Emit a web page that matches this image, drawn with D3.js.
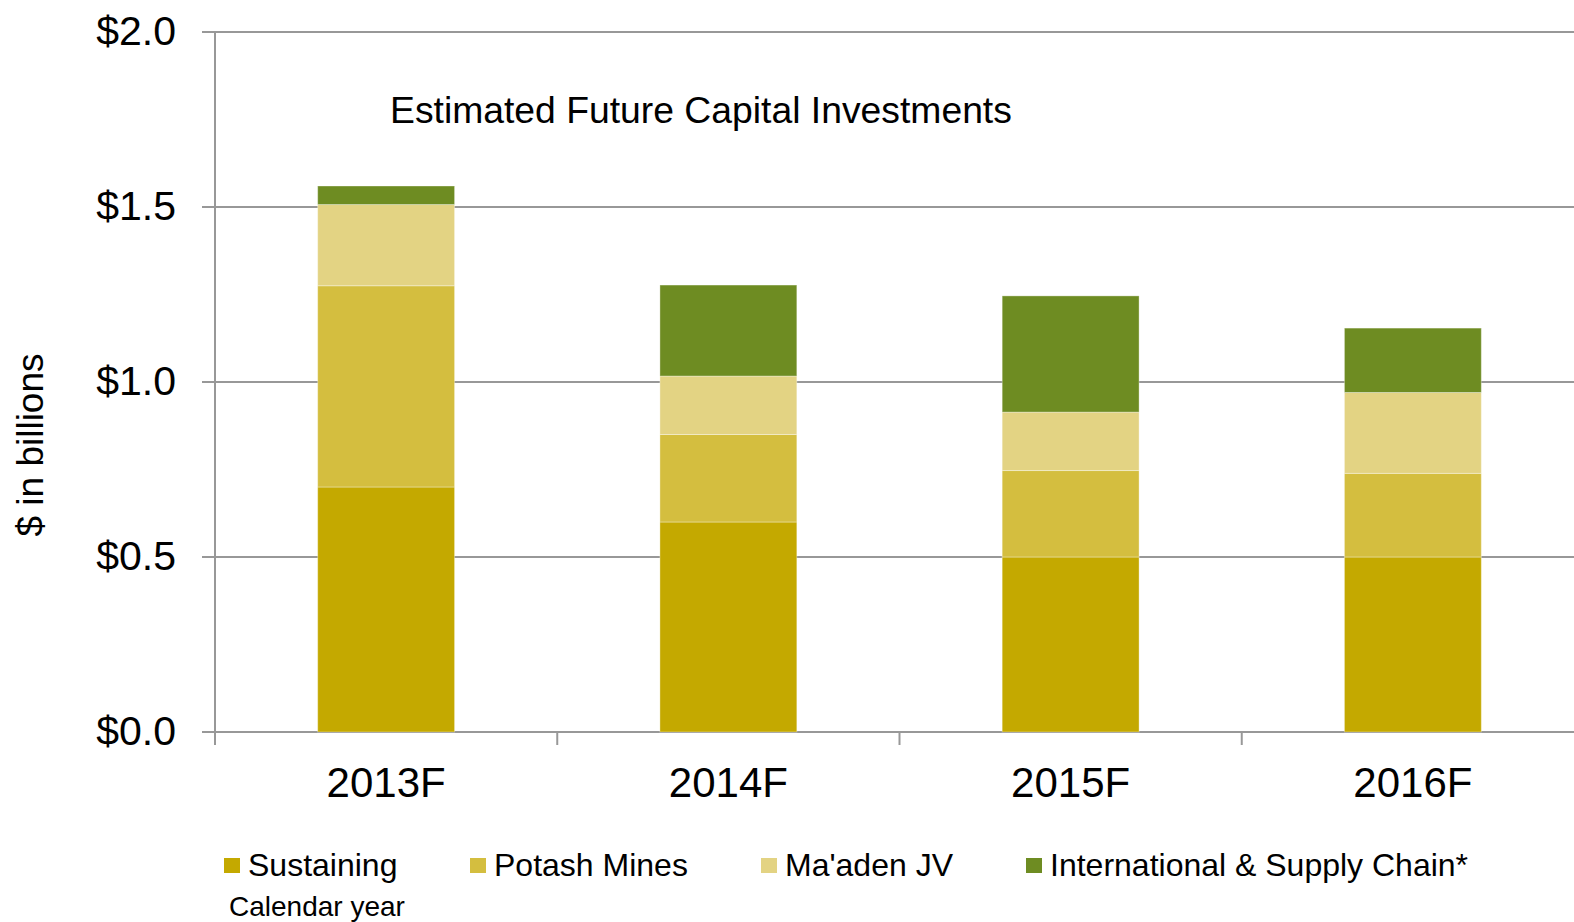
<!DOCTYPE html>
<html>
<head>
<meta charset="utf-8">
<script src="https://cdn.jsdelivr.net/npm/d3@7"></script>
<style>
  body { margin: 0; background: #fff; }
  svg text { font-family: "Liberation Sans", Arial, sans-serif; fill: #000; }
</style>
</head>
<body>
<script>
// chart size
const width = 1574, height = 922;
const margin = { top: 32, right: -10, bottom: 190, left: 215 };

// data
const categories = ["2013F", "2014F", "2015F", "2016F"];
const seriesNames = ["Sustaining", "Potash Mines", "Ma'aden JV", "International & Supply Chain*"];
const sustaining = [0.70, 0.60, 0.50, 0.50];
const potash = [0.575, 0.25, 0.247, 0.239];
const maaden = [0.232, 0.167, 0.167, 0.231];
const international = [0.053, 0.26, 0.332, 0.184];
const yTicks = [0, 0.5, 1.0, 1.5, 2.0];
const colors = ["#c4a900", "#d4be3f", "#e3d383", "#6e8c22"];

const svg = d3.select("body").append("svg")
  .attr("width", width)
  .attr("height", height);

// build rows for the stack
const keys = ["sustaining", "potash", "maaden", "international"];
const rows = categories.map((c, i) => ({
  cat: c,
  sustaining: sustaining[i],
  potash: potash[i],
  maaden: maaden[i],
  international: international[i]
}));
const stacked = d3.stack().keys(keys)(rows);

// scales
const xScale = d3.scaleBand()
  .domain(categories)
  .range([margin.left, width - margin.right])
  .paddingInner(0.6)
  .paddingOuter(0.3);

const yScale = d3.scaleLinear()
  .domain([0, 2])
  .range([height - margin.bottom, margin.top]);

// gridlines (they run off the right edge like the original)
svg.append("g")
  .selectAll("line")
  .data(yTicks)
  .enter().append("line")
  .attr("x1", margin.left - 13)
  .attr("x2", width)
  .attr("y1", d => yScale(d))
  .attr("y2", d => yScale(d))
  .attr("stroke", "#989898")
  .attr("stroke-width", 2);

// y axis line
svg.append("line")
  .attr("x1", margin.left).attr("x2", margin.left)
  .attr("y1", yScale(2)).attr("y2", yScale(0) + 13)
  .attr("stroke", "#989898")
  .attr("stroke-width", 2);

// category boundary ticks
const step = xScale.step();
svg.append("g")
  .selectAll("line")
  .data(categories.slice(1))
  .enter().append("line")
  .attr("x1", d => xScale(d) - step * 0.3)
  .attr("x2", d => xScale(d) - step * 0.3)
  .attr("y1", yScale(0))
  .attr("y2", yScale(0) + 13)
  .attr("stroke", "#989898")
  .attr("stroke-width", 2);

// y tick labels
const yAxis = svg.append("g")
  .attr("transform", `translate(${margin.left},0)`)
  .call(d3.axisLeft(yScale).tickValues(yTicks).tickSize(0).tickPadding(39)
    .tickFormat(d => "$" + d3.format(".1f")(d)));
yAxis.select(".domain").remove();
yAxis.selectAll("text")
  .attr("dy", null)
  .attr("dominant-baseline", "central")
  .attr("y", -1.5)
  .style("font-size", "41px");

// x tick labels
const xAxis = svg.append("g")
  .attr("transform", `translate(0,${yScale(0)})`)
  .call(d3.axisBottom(xScale).tickSize(0).tickPadding(0));
xAxis.select(".domain").remove();
xAxis.selectAll("text")
  .attr("dy", null)
  .attr("y", 65)
  .style("font-size", "42px");

// stacked bars
svg.append("g")
  .selectAll("g")
  .data(stacked)
  .enter().append("g")
  .attr("fill", (d, i) => colors[i])
  .selectAll("rect")
  .data(d => d)
  .enter().append("rect")
  .attr("x", d => xScale(d.data.cat))
  .attr("y", d => yScale(d[1]))
  .attr("width", xScale.bandwidth())
  .attr("height", d => yScale(d[0]) - yScale(d[1]))
  .attr("stroke", "rgba(255,255,255,0.35)")
  .attr("stroke-width", 1);

// chart title inside the plot
svg.append("text")
  .attr("x", 390)
  .attr("y", 123)
  .style("font-size", "37.3px")
  .text("Estimated Future Capital Investments");

// y axis title
svg.append("text")
  .attr("transform", "translate(43,445) rotate(-90)")
  .attr("text-anchor", "middle")
  .style("font-size", "37px")
  .text("$ in billions");

// legend
const legendX = [224, 470, 761, 1026];
const legend = svg.append("g")
  .selectAll("g")
  .data(seriesNames)
  .enter().append("g")
  .attr("transform", (d, i) => `translate(${legendX[i]},858)`);
legend.append("rect")
  .attr("width", 16)
  .attr("height", 15)
  .attr("fill", (d, i) => colors[i]);
legend.append("text")
  .attr("x", 24)
  .attr("y", 18)
  .style("font-size", "32px")
  .text(d => d);

// footnote
svg.append("text")
  .attr("x", 229)
  .attr("y", 916)
  .style("font-size", "28px")
  .text("Calendar year");
</script>
</body>
</html>
